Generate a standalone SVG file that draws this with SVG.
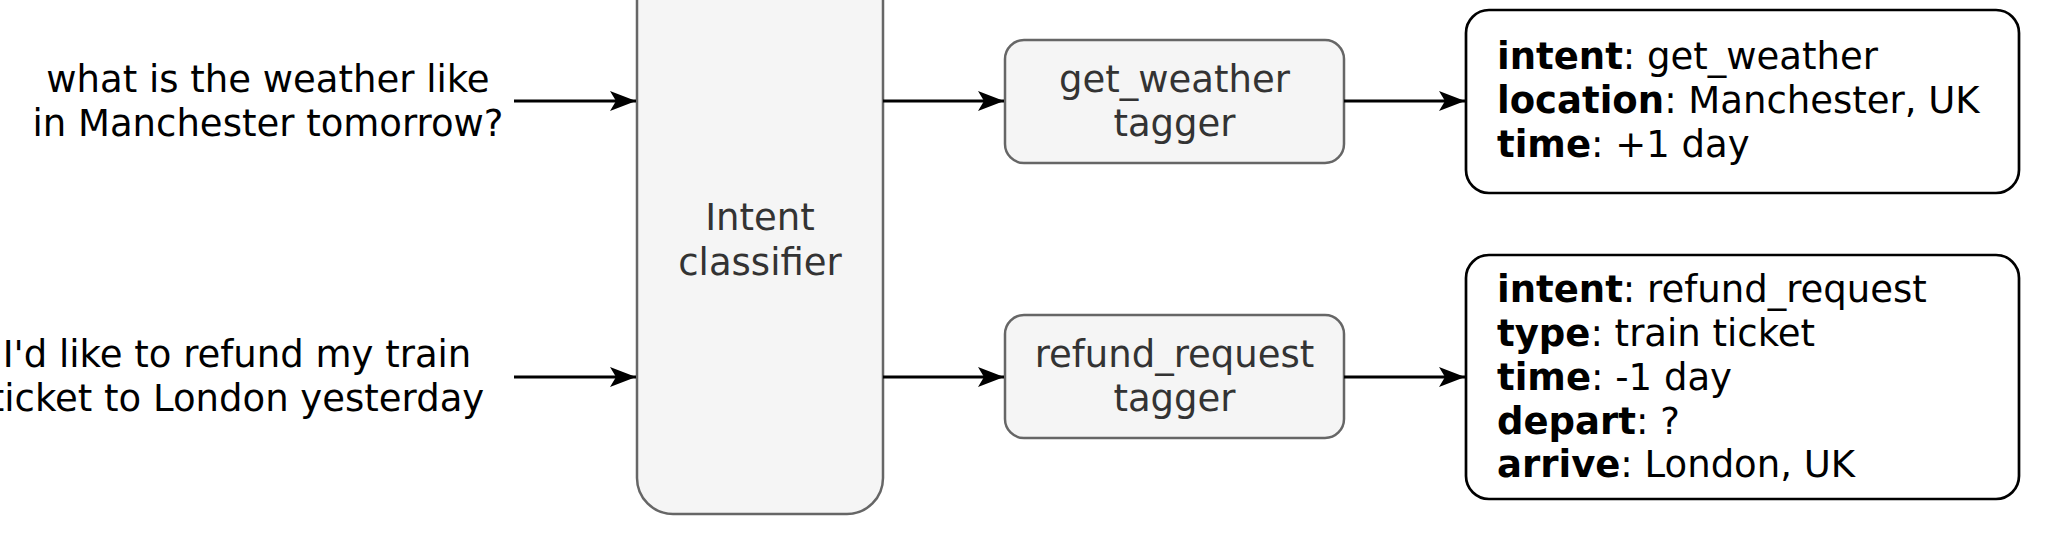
<svg xmlns="http://www.w3.org/2000/svg" width="2052" height="536" viewBox="0 0 2052 536">
<defs>
<style>
text{font-family:"DejaVu Sans","Verdana",sans-serif;font-size:37px;}
.plain{fill:#000000;}
.gray{fill:#333333;text-anchor:middle;}
.in{fill:#000000;text-anchor:middle;}
.grayBox{fill:#f5f5f5;stroke:#666666;stroke-width:2.5;}
.outBox{fill:#ffffff;stroke:#000000;stroke-width:2.7;}
.edge{stroke:#000000;stroke-width:3;fill:none;marker-end:url(#arr);}
.b{font-weight:bold;}
</style>
<marker id="arr" markerUnits="userSpaceOnUse" markerWidth="28" markerHeight="22" refX="26" refY="10" orient="auto">
<path d="M0,0 L26,10 L0,20 L6,10 Z" fill="#000000"/>
</marker>
</defs>
<rect width="2052" height="536" fill="#ffffff"/>
<g id="input-weather">
<text class="in" x="268" y="92">what is the weather like</text>
<text class="in" x="268" y="136">in Manchester tomorrow?</text>
</g>
<g id="input-refund">
<text class="in" x="237" y="367">I'd like to refund my train</text>
<text class="in" x="237" y="411">ticket to London yesterday</text>
</g>
<g id="intent-classifier">
<rect class="grayBox" x="637" y="-40" width="246" height="554" rx="36" ry="36"/>
<text class="gray" x="760" y="230">Intent</text>
<text class="gray" x="760" y="275">classifier</text>
</g>
<g id="get-weather-tagger">
<rect class="grayBox" x="1005" y="40" width="339" height="123" rx="19" ry="19"/>
<text class="gray" x="1174.5" y="92">get_weather</text>
<text class="gray" x="1174.5" y="136">tagger</text>
</g>
<g id="refund-request-tagger">
<rect class="grayBox" x="1005" y="315" width="339" height="123" rx="19" ry="19"/>
<text class="gray" x="1174.5" y="367">refund_request</text>
<text class="gray" x="1174.5" y="411">tagger</text>
</g>
<g id="weather-output">
<rect class="outBox" x="1466" y="10" width="553" height="183" rx="23" ry="23"/>
<text class="plain" x="1497" y="69"><tspan class="b">intent</tspan>: get_weather</text>
<text class="plain" x="1497" y="113"><tspan class="b">location</tspan>: Manchester, UK</text>
<text class="plain" x="1497" y="157"><tspan class="b">time</tspan>: +1 day</text>
</g>
<g id="refund-output">
<rect class="outBox" x="1466" y="255" width="553" height="244" rx="23" ry="23"/>
<text class="plain" x="1497" y="302"><tspan class="b">intent</tspan>: refund_request</text>
<text class="plain" x="1497" y="346"><tspan class="b">type</tspan>: train ticket</text>
<text class="plain" x="1497" y="390"><tspan class="b">time</tspan>: -1 day</text>
<text class="plain" x="1497" y="434"><tspan class="b">depart</tspan>: ?</text>
<text class="plain" x="1497" y="477"><tspan class="b">arrive</tspan>: London, UK</text>
</g>
<g id="connectors">
<line class="edge" x1="514" y1="101" x2="636" y2="101"/>
<line class="edge" x1="514" y1="377" x2="636" y2="377"/>
<line class="edge" x1="883" y1="101" x2="1004" y2="101"/>
<line class="edge" x1="883" y1="377" x2="1004" y2="377"/>
<line class="edge" x1="1344" y1="101" x2="1465" y2="101"/>
<line class="edge" x1="1344" y1="377" x2="1465" y2="377"/>
</g>
</svg>
